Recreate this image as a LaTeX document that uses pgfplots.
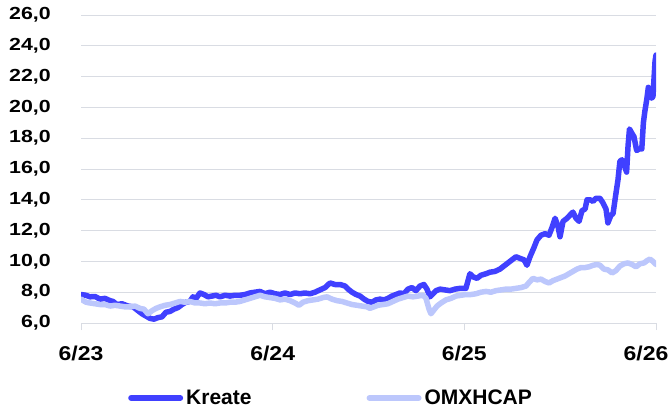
\documentclass[border=0pt]{standalone}
\usepackage{fontspec}
\setmainfont{Liberation Sans}
\newfontfamily\yfont{Liberation Sans}[FakeStretch=1.22]
\newfontfamily\xfont{Liberation Sans}[FakeStretch=1.15]
\usepackage{pgfplots}
\pgfplotsset{compat=1.18}
\definecolor{kreate}{RGB}{64,64,255}
\definecolor{omx}{RGB}{188,199,252}
\definecolor{gridgray}{RGB}{217,220,227}
\begin{document}
\begin{tikzpicture}
\path[use as bounding box] (0pt,0pt) rectangle (672pt,410pt);
\begin{axis}[
  at={(81pt,87pt)}, anchor=south west,
  scale only axis, width=575pt, height=308pt,
  xmin=0, xmax=36, ymin=6, ymax=26,
  axis lines*=left,
  y axis line style={draw=none},
  x axis line style={draw=gridgray, line width=1pt},
  ytick={6,8,...,26},
  ytick style={draw=none},
  xtick={0,12,24,36},
  xticklabels={6/23,6/24,6/25,\hspace*{-20pt}6/26},
  xtick style={draw=gridgray, line width=1pt},
  tick align=outside, major tick length=7pt,
  ymajorgrids, grid style={draw=gridgray, line width=1pt},
  /pgf/number format/.cd, use comma, fixed, fixed zerofill, precision=1, assume math mode=true,
  /pgfplots/.cd,
  yticklabel style={font=\yfont\bfseries\fontsize{17.5}{18}\selectfont, anchor=east, inner sep=0pt, xshift=-23pt},
  xticklabel style={font=\xfont\bfseries\fontsize{20}{21}\selectfont, anchor=base, inner sep=0pt, yshift=-30pt},
  legend columns=2,
  legend style={at={(axis description cs:0,0)}, anchor=west, xshift=44pt, yshift=-75pt,
    draw=none, fill=none, font=\bfseries\fontsize{21}{22}\selectfont,
    nodes={inner xsep=3pt, inner ysep=0pt},
    /tikz/every even column/.append style={column sep=112pt}},
  legend cell align=left,
  legend image code/.code={\draw[#1, line width=6pt, line cap=round] (3pt,0pt) -- (52pt,0pt);},
  every axis plot/.append style={line width=5.5pt, line join=round, line cap=round},
]
\addplot[kreate] coordinates {
(0,7.85)(0.31,7.8)(0.56,7.7)(0.88,7.72)(1.19,7.55)(1.50,7.6)(1.82,7.45)(2.00,7.4)(2.25,7.2)(2.57,7.25)
(2.94,7.1)(3.26,7.05)(3.57,6.8)(3.82,6.6)(4.07,6.45)(4.32,6.3)(4.57,6.25)(4.82,6.35)(5.07,6.4)(5.32,6.7)
(5.57,6.75)(5.82,6.9)(6.07,7.0)(6.32,7.2)(6.57,7.35)(6.82,7.4)(7.01,7.7)(7.20,7.6)(7.45,7.95)(7.70,7.85)
(7.95,7.7)(8.20,7.75)(8.45,7.8)(8.70,7.7)(9.02,7.8)(9.33,7.75)(9.64,7.8)(9.95,7.8)(10.27,7.85)(10.58,7.95)
(10.89,8.0)(11.21,8.05)(11.52,7.9)(11.83,8.0)(12.15,7.9)(12.46,7.85)(12.77,7.95)(13.09,7.85)(13.40,7.95)(13.71,7.9)
(14.02,7.95)(14.34,7.9)(14.65,8.0)(14.96,8.15)(15.28,8.3)(15.59,8.6)(15.90,8.5)(16.22,8.5)(16.53,8.4)(16.72,8.2)
(16.97,8.0)(17.22,7.85)(17.47,7.75)(17.72,7.55)(17.97,7.4)(18.22,7.35)(18.47,7.5)(18.72,7.55)(18.97,7.5)(19.22,7.6)
(19.47,7.75)(19.72,7.85)(19.97,7.95)(20.22,7.9)(20.47,8.2)(20.72,8.3)(20.97,8.1)(21.22,8.4)(21.47,8.5)(21.66,8.2)
(21.85,7.7)(22.04,7.9)(22.23,8.1)(22.48,8.2)(22.79,8.15)(23.10,8.1)(23.42,8.2)(23.73,8.25)(24.10,8.25)(24.35,9.2)
(24.54,9.0)(24.79,8.9)(25.04,9.1)(25.36,9.2)(25.61,9.3)(25.92,9.35)(26.23,9.5)(26.48,9.7)(26.73,9.9)(26.98,10.1)
(27.23,10.3)(27.48,10.2)(27.74,10.1)(27.92,9.75)(28.11,10.3)(28.36,10.9)(28.55,11.4)(28.80,11.7)(29.05,11.8)(29.30,11.7)
(29.49,12.2)(29.68,12.8)(29.86,12.3)(29.99,11.6)(30.18,12.6)(30.43,12.8)(30.61,13.0)(30.80,13.2)(30.99,12.8)(31.18,12.6)
(31.37,13.3)(31.56,13.4)(31.68,14.0)(31.87,14.0)(32.06,13.9)(32.24,14.1)(32.49,14.1)(32.68,13.8)(32.87,13.4)(32.99,12.5)
(33.18,13.0)(33.31,13.1)(33.49,14.4)(33.62,15.3)(33.74,16.5)(33.87,16.6)(33.99,16.3)(34.16,15.8)(34.25,17.5)(34.34,18.6)
(34.50,18.3)(34.62,18.1)(34.79,17.2)(34.94,17.3)(35.11,17.3)(35.21,19.0)(35.31,19.8)(35.42,20.5)(35.52,21.3)(35.62,21.0)
(35.73,20.6)(35.81,20.7)(35.94,23.0)(36,23.4)
};
\addlegendentry{Kreate}
\addplot[omx] coordinates {
(0,7.55)(0.31,7.35)(0.56,7.3)(0.88,7.25)(1.19,7.2)(1.50,7.2)(1.82,7.1)(2.13,7.15)(2.44,7.1)(2.75,7.05)
(3.07,7.05)(3.38,7.1)(3.69,6.95)(3.94,6.9)(4.19,6.6)(4.45,6.8)(4.70,6.95)(4.95,7.05)(5.26,7.15)(5.57,7.2)
(5.89,7.3)(6.20,7.4)(6.51,7.35)(6.82,7.4)(7.14,7.3)(7.45,7.3)(7.76,7.25)(8.08,7.3)(8.39,7.25)(8.70,7.3)
(9.02,7.3)(9.33,7.35)(9.64,7.35)(9.95,7.4)(10.27,7.5)(10.58,7.6)(10.89,7.7)(11.21,7.8)(11.52,7.7)(11.83,7.65)
(12.15,7.6)(12.46,7.5)(12.77,7.55)(13.09,7.45)(13.40,7.3)(13.65,7.15)(13.90,7.35)(14.21,7.45)(14.53,7.5)(14.84,7.55)
(15.15,7.65)(15.40,7.7)(15.71,7.55)(16.03,7.45)(16.34,7.4)(16.65,7.3)(16.97,7.2)(17.28,7.15)(17.59,7.1)(17.91,7.05)
(18.09,6.95)(18.34,7.05)(18.59,7.15)(18.91,7.2)(19.22,7.25)(19.53,7.4)(19.85,7.55)(20.16,7.65)(20.47,7.75)(20.79,7.7)
(21.10,7.75)(21.41,7.8)(21.60,7.6)(21.79,6.9)(21.91,6.6)(22.10,6.85)(22.29,7.1)(22.54,7.3)(22.85,7.5)(23.16,7.6)
(23.48,7.75)(23.79,7.8)(24.10,7.85)(24.42,7.85)(24.73,7.9)(25.04,8.0)(25.36,8.05)(25.67,8.0)(25.98,8.1)(26.30,8.15)
(26.61,8.2)(26.92,8.2)(27.23,8.25)(27.55,8.3)(27.86,8.4)(28.11,8.7)(28.30,8.9)(28.55,8.8)(28.80,8.85)(29.05,8.7)
(29.30,8.6)(29.55,8.75)(29.80,8.85)(30.05,8.95)(30.30,9.05)(30.55,9.2)(30.80,9.35)(31.05,9.5)(31.31,9.6)(31.56,9.6)
(31.81,9.65)(32.06,9.75)(32.31,9.8)(32.49,9.75)(32.74,9.5)(32.99,9.45)(33.25,9.25)(33.49,9.4)(33.74,9.7)(34.00,9.85)
(34.25,9.9)(34.50,9.8)(34.75,9.65)(35.00,9.85)(35.25,9.9)(35.44,10.05)(35.62,10.15)(35.81,10.0)(36,9.8)
};
\addlegendentry{OMXHCAP}
\end{axis}
\end{tikzpicture}
\end{document}
